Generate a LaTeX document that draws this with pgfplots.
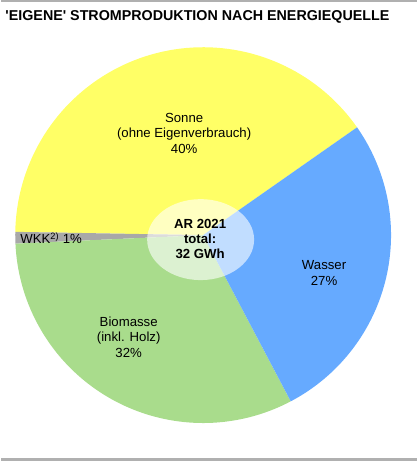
\documentclass[border=0pt]{standalone}
\usepackage{pgfplots}
\usepackage{pgfplotstable}
\usepackage{fontspec}
\setmainfont{Liberation Sans}
\pgfplotsset{compat=1.18}

\definecolor{sonne}{HTML}{FFFF66}
\definecolor{wasser}{HTML}{66AAFF}
\definecolor{biomasse}{HTML}{A9DC8C}
\definecolor{wkk}{HTML}{A8A8A8}
\definecolor{rule}{HTML}{B0B0B0}

% shares in percent, in drawing order (counter-clockwise)
\pgfplotstableread{
name     value
Sonne    40
WKK      1
Biomasse 32
Wasser   27
}\pietable

\pgfplotstablegetelem{0}{value}\of\pietable \let\vSonne\pgfplotsretval
\pgfplotstablegetelem{1}{value}\of\pietable \let\vWKK\pgfplotsretval
\pgfplotstablegetelem{2}{value}\of\pietable \let\vBio\pgfplotsretval
\pgfplotstablegetelem{3}{value}\of\pietable \let\vWasser\pgfplotsretval

% cumulative angles
\pgfmathsetmacro\aA{35}
\pgfmathsetmacro\aB{\aA+3.6*\vSonne}
\pgfmathsetmacro\aC{\aB+3.6*\vWKK}
\pgfmathsetmacro\aD{\aC+3.6*\vBio}
\pgfmathsetmacro\aE{\aD+3.6*\vWasser}

\def\cx{202}
\def\cy{226}
\def\rr{188}

\tikzset{lbl/.style={font=\fontsize{13.2}{15.5}\selectfont, align=center, inner sep=0pt}}

\begin{document}
\begin{tikzpicture}
\begin{axis}[
    scale only axis,
    width=416pt, height=461pt,
    xmin=0, xmax=416, ymin=0, ymax=461,
    hide axis, clip=false,
    ]
  \path (axis cs:0,0) rectangle (axis cs:416,461);
  % frame lines
  \draw[rule, line width=2.5pt] (axis cs:0,460) -- (axis cs:416,460);
  \draw[rule, line width=2.5pt] (axis cs:0,1.5) -- (axis cs:416,1.5);

  \addplot[fill=sonne, draw=none, domain=\aA:\aB, samples=80]
    ({\cx+\rr*cos(x)},{\cy+\rr*sin(x)}) -- (axis cs:\cx,\cy) -- cycle;
  \addplot[fill=wkk, draw=none, domain=\aB:\aC, samples=5]
    ({\cx+\rr*cos(x)},{\cy+\rr*sin(x)}) -- (axis cs:\cx,\cy) -- cycle;
  \addplot[fill=biomasse, draw=none, domain=\aC:\aD, samples=80]
    ({\cx+\rr*cos(x)},{\cy+\rr*sin(x)}) -- (axis cs:\cx,\cy) -- cycle;
  \addplot[fill=wasser, draw=none, domain=\aD:\aE, samples=80]
    ({\cx+\rr*cos(x)},{\cy+\rr*sin(x)}) -- (axis cs:\cx,\cy) -- cycle;

  \fill[white, opacity=0.6] (axis cs:199.5,221.5) ellipse [x radius=53.5, y radius=40.5];

  \node[font=\bfseries\fontsize{14.3}{16}\selectfont, anchor=west, inner sep=0pt] at (axis cs:4,444) {\textquotesingle EIGENE\textquotesingle{} STROMPRODUKTION NACH ENERGIEQUELLE};

  \node[lbl] at (axis cs:183,328) {Sonne\\(ohne Eigenverbrauch)\\40\%};
  \node[lbl] at (axis cs:323,188) {Wasser\\27\%};
  \node[lbl] at (axis cs:127.5,124) {Biomasse\\(inkl. Holz)\\32\%};
  \node[lbl, anchor=west] at (axis cs:19,223) {WKK\textsuperscript{2)} 1\%};
  \node[lbl, font=\bfseries\fontsize{13.2}{15}\selectfont] at (axis cs:199,222.5) {AR 2021\\total:\\32 GWh};
\end{axis}
\end{tikzpicture}
\end{document}
